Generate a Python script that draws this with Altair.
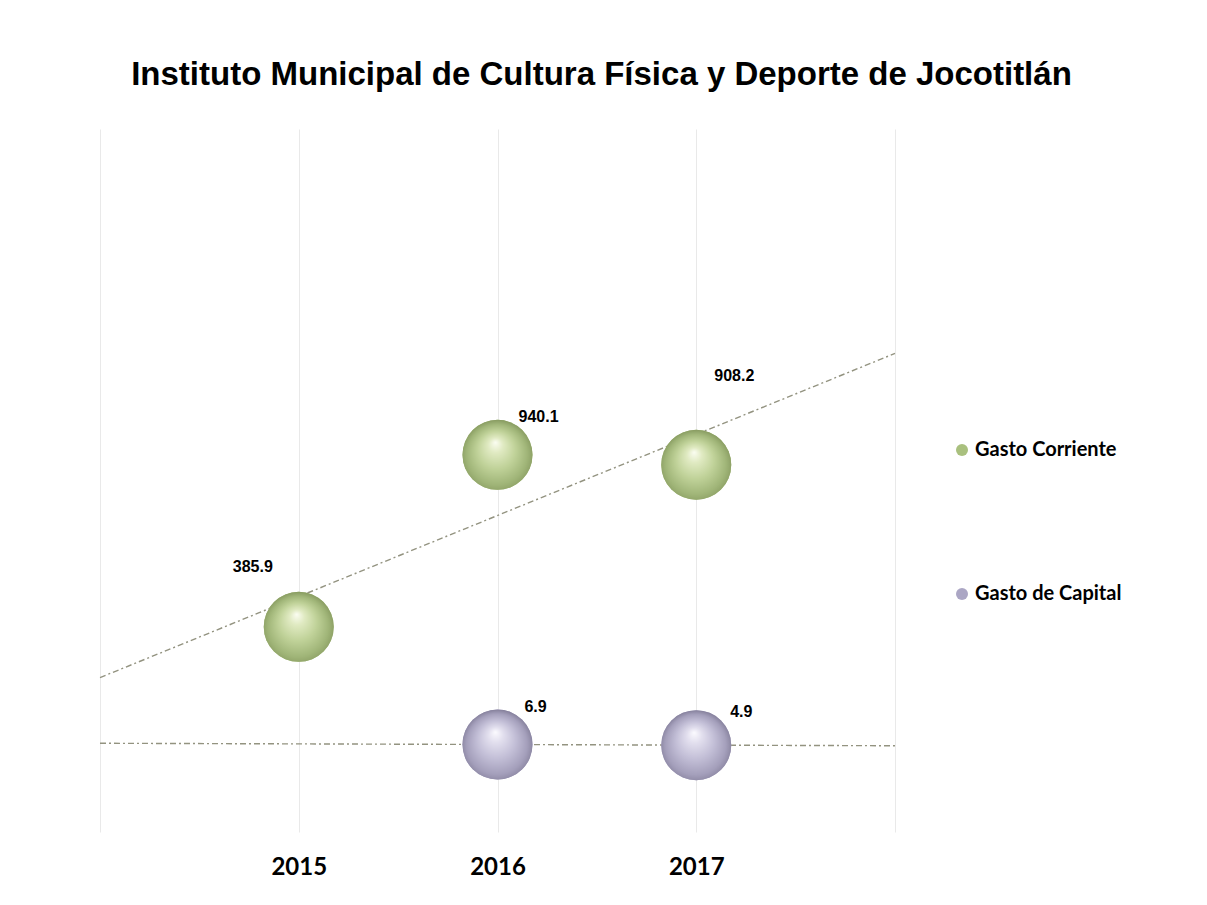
import altair as alt
import pandas as pd

# ---- data ----
years = [2015, 2016, 2017]
series_names = ["Gasto Corriente", "Gasto de Capital"]
gasto_corriente = [385.9, 940.1, 908.2]
gasto_capital = [None, 6.9, 4.9]
title_text = "Instituto Municipal de Cultura Física y Deporte de Jocotitlán"

rows = []
for y, v in zip(years, gasto_corriente):
    if v is not None:
        rows.append({"year": y, "value": v, "series": series_names[0], "label": f"{v:.1f}"})
for y, v in zip(years, gasto_capital):
    if v is not None:
        rows.append({"year": y, "value": v, "series": series_names[1], "label": f"{v:.1f}"})
df = pd.DataFrame(rows)

# ---- styles ----
solid_colors = ["#a9c07e", "#aba6c4"]
green_grad = alt.RadialGradient(
    gradient="radial", x1=0.47, y1=0.32, r1=0.0, x2=0.5, y2=0.56, r2=0.6,
    stops=[
        alt.GradientStop(color="#fbfdf2", offset=0.0),
        alt.GradientStop(color="#e0eac2", offset=0.18),
        alt.GradientStop(color="#c0d299", offset=0.45),
        alt.GradientStop(color="#a0b578", offset=0.72),
        alt.GradientStop(color="#86995f", offset=0.9),
        alt.GradientStop(color="#b7c893", offset=1.0),
    ],
)
purple_grad = alt.RadialGradient(
    gradient="radial", x1=0.47, y1=0.32, r1=0.0, x2=0.5, y2=0.56, r2=0.6,
    stops=[
        alt.GradientStop(color="#fcfbff", offset=0.0),
        alt.GradientStop(color="#e2dfee", offset=0.18),
        alt.GradientStop(color="#c3bfd7", offset=0.45),
        alt.GradientStop(color="#a49fbb", offset=0.72),
        alt.GradientStop(color="#827d98", offset=0.9),
        alt.GradientStop(color="#b3afc6", offset=1.0),
    ],
)
bubble_size = 4900  # Vega circle: diameter = sqrt(size)
label_font = "Liberation Sans, Arial"
# per-label offsets (style), keyed by label text
label_offsets = {
    "385.9": (-46, -60),
    "940.1": (41, -38),
    "908.2": (38, -89),
    "6.9": (38, -38),
    "4.9": (45, -33),
}

x_scale = alt.Scale(domain=[2014, 2018], nice=False, zero=False)
y_scale = alt.Scale(domain=[-275, 1990], nice=False, zero=False)

x_enc = alt.X(
    "year:Q",
    scale=x_scale,
    axis=alt.Axis(
        values=[2014, 2015, 2016, 2017, 2018],
        format="d",
        labelExpr="(datum.value == 2014 || datum.value == 2018) ? '' : datum.label",
        grid=True, gridColor="#e9e9e9", gridWidth=1,
        domain=False, ticks=False,
        labelFont="Lato", labelFontWeight="bold", labelFontSize=24,
        labelColor="#000000", labelPadding=23, labelFlush=False, labelOverlap=False,
        title=None,
    ),
)
y_enc = alt.Y("value:Q", scale=y_scale, axis=None)

base = alt.Chart(df)

trend = base.transform_regression(
    "year", "value", groupby=["series"], extent=[2014, 2018]
).mark_line(color="#939380", strokeWidth=1.4, strokeDash=[6, 3, 2, 3]).encode(
    x=x_enc, y=y_enc, detail="series:N"
)

solid = base.mark_circle(size=bubble_size, opacity=1).encode(
    x=x_enc,
    y=y_enc,
    color=alt.Color(
        "series:N",
        scale=alt.Scale(domain=series_names, range=solid_colors),
        legend=alt.Legend(
            title=None, orient="none", legendX=852, legendY=311,
            symbolType="circle", symbolSize=144, symbolStrokeWidth=0, symbolOpacity=1,
            labelFont="Lato", labelFontWeight="bold", labelFontSize=20, labelColor="#000000",
            rowPadding=124, labelOffset=3,
        ),
    ),
)

green = base.transform_filter(alt.datum.series == series_names[0]).mark_circle(
    size=bubble_size, fill=green_grad, opacity=1, strokeWidth=0
).encode(x=x_enc, y=y_enc)
purple = base.transform_filter(alt.datum.series == series_names[1]).mark_circle(
    size=bubble_size, fill=purple_grad, opacity=1, strokeWidth=0
).encode(x=x_enc, y=y_enc)

label_layers = []
for lab, (dx, dy) in label_offsets.items():
    label_layers.append(
        base.transform_filter(alt.datum.label == lab).mark_text(
            font=label_font, fontWeight="bold", fontSize=16,
            color="#000000", align="center", baseline="middle", dx=dx, dy=dy,
        ).encode(x=x_enc, y=y_enc, text="label:N")
    )

chart = alt.layer(trend, solid, green, purple, *label_layers).properties(
    width=795,
    height=703,
    title=alt.TitleParams(
        text=title_text, font="Liberation Sans, Arial", fontSize=33, fontWeight="bold",
        color="#000000", anchor="middle", dx=104, offset=11, baseline="alphabetic",
    ),
    autosize=alt.AutoSizeParams(type="none"),
    padding={"left": 92, "top": 121, "right": 300, "bottom": 60},
    background="#ffffff",
).configure_view(stroke=None)

chart.save("out.html", embed_options={"renderer": "svg", "actions": False})
